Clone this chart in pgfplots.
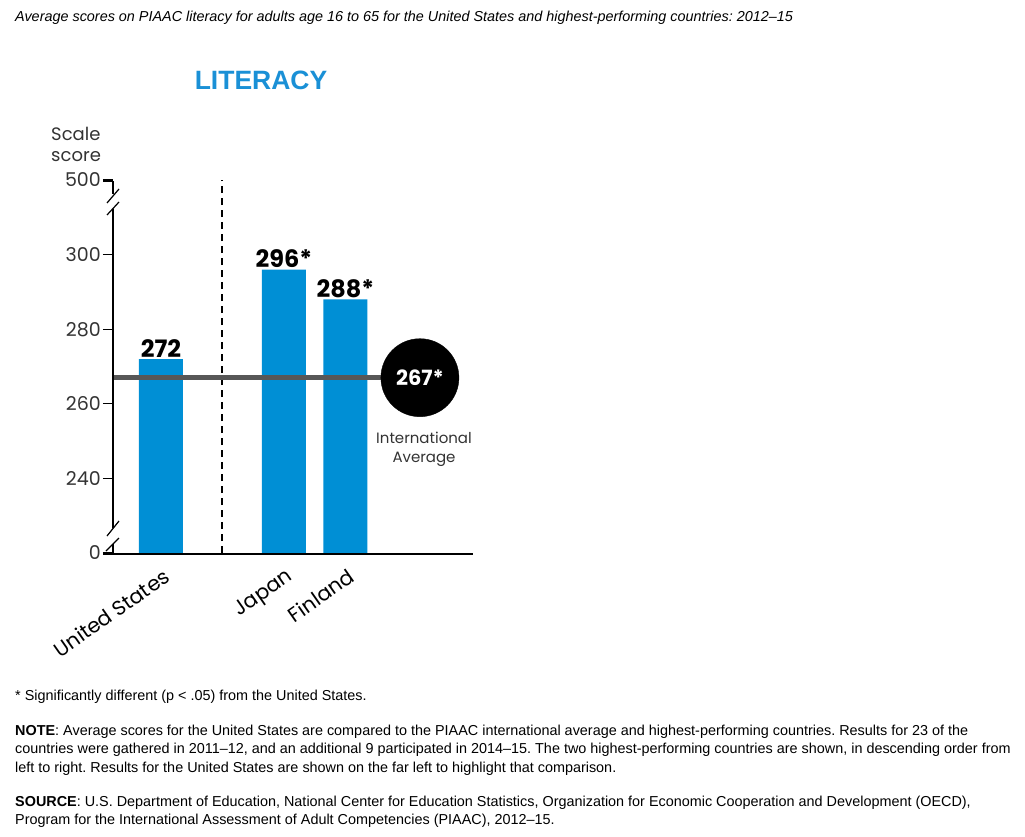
\documentclass[border=0pt]{standalone}
\usepackage{pgfplots}
\pgfplotsset{compat=1.18}
\usepackage{fontspec}
\setmainfont{Liberation Sans}
\newfontfamily\pop{Poppins}
\definecolor{barblue}{HTML}{008FD5}
\definecolor{titleblue}{HTML}{1A90D6}
\definecolor{avggray}{HTML}{575757}
\definecolor{txtgray}{HTML}{333333}
\frenchspacing
\begin{document}
\begin{tikzpicture}[x=1pt,y=1pt]
\path[use as bounding box] (0,0) rectangle (1025,-837);
% caption
\node[anchor=base west, inner sep=0pt, font=\itshape\fontsize{14.4}{16}\selectfont] at (15,-22)
 {Average scores on PIAAC literacy for adults age 16 to 65 for the United States and highest-performing countries: 2012--15};
% title
\node[font=\bfseries\fontsize{26.5}{30}\selectfont, text=titleblue] at (261,-80) {LITERACY};
% y label
\node[anchor=north west, align=left, inner sep=0pt, font=\pop\fontsize{18}{21}\selectfont, text=txtgray] at (51,-127) {Scale\\score};
\begin{axis}[
  at={(113pt,-553pt)}, anchor=south west,
  scale only axis, width=360pt, height=373pt,
  xmin=-0.78, xmax=5.073, ymin=220, ymax=320,
  axis line style={draw=none},
  tick pos=left, tick align=outside,
  major tick length=10pt,
  ytick={220,240,260,280,300,320},
  yticklabels={0,240,260,280,300,500},
  ytick style={black, line width=1.2pt},
  yticklabel style={font=\pop\fontsize{19}{19}\selectfont, text=txtgray, inner sep=2pt},
  xtick={0,2,3},
  xticklabels={United States,Japan,Finland},
  xtick style={draw=none},
  xticklabel style={font=\pop\fontsize{20.5}{20.5}\selectfont, rotate=35, anchor=north east, text=black, xshift=2pt, yshift=-1pt},
  clip=false,
]
\addplot[ybar, bar width=44pt, fill=barblue, draw=none,
  nodes near coords, point meta=explicit symbolic,
  every node near coord/.style={font=\pop\bfseries\fontsize{24}{24}\selectfont, text=black, anchor=south, inner sep=1.5pt}]
  coordinates {(0,272)[272] (2,296)[296*] (3,288)[288*]};
\addplot[black, line width=1.6pt, dash pattern=on 7pt off 5pt] coordinates {(0.99,220) (0.99,320)};
\addplot[avggray, line width=5pt] coordinates {(-0.78,267) (4.21,267)};
\addplot[only marks, mark=*, mark size=39pt, mark options={draw=black, fill=black}] coordinates {(4.21,267)};
\end{axis}
% circle label and caption
\node[text=white, font=\pop\bfseries\fontsize{21}{21}\selectfont] at (420,-378) {267*};
\node[align=center, text=txtgray, font=\pop\fontsize{15}{19}\selectfont] at (424,-449.5) {International\\Average};
% axis lines with breaks
\draw[black, line width=1.5pt] (103,-554) -- (473,-554);
\draw[black, line width=1.5pt] (103,-181.5) -- (113,-181.5) -- (113,-194);
\draw[black, line width=1.5pt] (113,-209) -- (113,-528);
\draw[black, line width=1.5pt] (113,-544) -- (113,-554);
\draw[black, line width=1.2pt] (107,-203) -- (119,-189);
\draw[black, line width=1.2pt] (107,-215) -- (119,-202);
\draw[black, line width=1.2pt] (107,-536) -- (119,-521);
\draw[black, line width=1.2pt] (106,-551) -- (119,-538);
% notes
\begin{scope}[every node/.style={anchor=base west, inner sep=0pt, font=\fontsize{14.4}{18.5}\selectfont}]
\node at (15,-700) {* Significantly different (p < .05) from the United States.};
\node at (15,-735) {\textbf{NOTE}: Average scores for the United States are compared to the PIAAC international average and highest-performing countries. Results for 23 of the};
\node at (15,-753.5) {countries were gathered in 2011--12, and an additional 9 participated in 2014--15. The two highest-performing countries are shown, in descending order from};
\node at (15,-772) {left to right. Results for the United States are shown on the far left to highlight that comparison.};
\node at (15,-806) {\textbf{SOURCE}: U.S. Department of Education, National Center for Education Statistics, Organization for Economic Cooperation and Development (OECD),};
\node at (15,-824.5) {Program for the International Assessment of Adult Competencies (PIAAC), 2012--15.};
\end{scope}
\end{tikzpicture}
\end{document}
